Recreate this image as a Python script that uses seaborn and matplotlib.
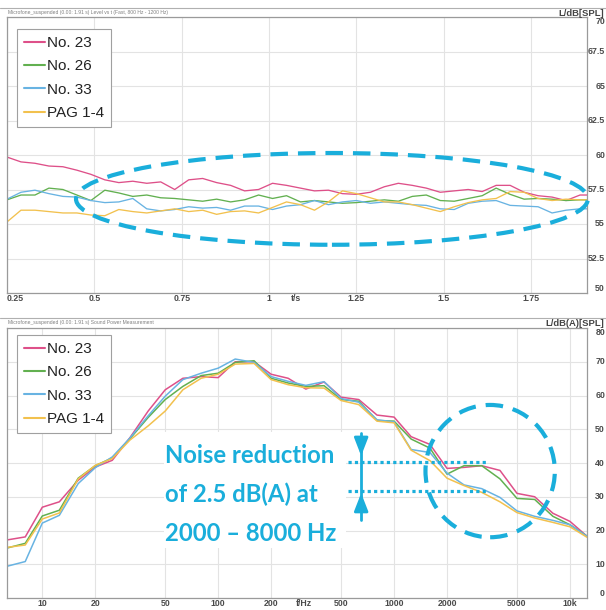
import numpy as np
import pandas as pd
import matplotlib
matplotlib.use("Agg")
import matplotlib.pyplot as plt
import matplotlib.transforms as mtransforms
from matplotlib.patches import Ellipse, Rectangle, FancyArrowPatch
from matplotlib.lines import Line2D
from matplotlib.ticker import NullLocator
import seaborn as sns

sns.set_theme(style="white")
plt.rcParams["font.family"] = ["Liberation Sans", "DejaVu Sans"]

# ---------------- data ----------------
series = ["No. 23", "No. 26", "No. 33", "PAG 1-4"]
colors = ["#DE5089", "#62B050", "#68B3E2", "#F2C14E"]

time_s = [0.25, 0.29, 0.33, 0.37, 0.41, 0.45, 0.49, 0.53, 0.57, 0.61, 0.65, 0.69,
          0.73, 0.77, 0.81, 0.85, 0.89, 0.93, 0.97, 1.01, 1.05, 1.09, 1.13, 1.17,
          1.21, 1.25, 1.29, 1.33, 1.37, 1.41, 1.45, 1.49, 1.53, 1.57, 1.61, 1.65,
          1.69, 1.73, 1.77, 1.81, 1.85, 1.89, 1.91]
level_no23 = [59.85, 59.5, 59.4, 59.2, 59.15, 58.9, 58.6, 58.2, 58.0, 58.1, 57.95, 58.05,
              57.5, 58.2, 58.3, 58.0, 57.8, 57.4, 57.5, 57.95, 57.8, 57.6, 57.4, 57.45,
              57.2, 57.15, 57.3, 57.7, 57.95, 57.8, 57.6, 57.3, 57.4, 57.5, 57.35, 57.8,
              57.8, 57.3, 57.05, 56.95, 56.7, 57.1, 57.1]
level_no26 = [56.75, 57.1, 57.1, 57.6, 57.5, 57.1, 56.7, 57.45, 57.25, 57.0, 57.1, 56.9,
              56.85, 56.75, 56.65, 56.8, 56.6, 56.75, 57.1, 56.85, 57.05, 56.6, 56.7, 56.6,
              56.5, 56.55, 56.65, 56.75, 56.65, 57.0, 57.1, 56.7, 56.65, 56.85, 57.05, 57.6,
              57.15, 56.8, 56.85, 56.8, 56.7, 56.75, 56.75]
level_no33 = [56.8, 57.3, 57.45, 57.2, 57.0, 56.95, 56.7, 56.55, 56.6, 56.85, 56.1, 55.95,
              56.05, 56.25, 56.15, 56.2, 56.0, 56.3, 56.3, 56.05, 56.3, 56.4, 56.7, 56.4,
              56.6, 56.7, 56.5, 56.6, 56.5, 56.4, 56.35, 56.1, 56.05, 56.5, 56.65, 56.7,
              56.35, 56.3, 56.25, 55.8, 56.0, 56.1, 56.1]
level_pag = [55.15, 56.0, 56.0, 55.9, 55.8, 55.8, 55.65, 55.6, 56.05, 55.9, 55.8, 55.95,
             56.1, 55.9, 56.0, 55.7, 55.9, 55.95, 55.8, 56.2, 56.6, 56.4, 56.0, 56.6,
             57.4, 57.2, 56.9, 56.6, 56.6, 56.4, 56.15, 55.9, 56.25, 56.55, 56.75, 56.85,
             57.35, 57.3, 56.85, 56.7, 56.8, 56.75, 56.75]

freq_hz = [6.3, 8, 10, 12.5, 16, 20, 25, 31.5, 40, 50, 63, 80, 100, 125, 160, 200, 250,
           315, 400, 500, 630, 800, 1000, 1250, 1600, 2000, 2500, 3150, 4000, 5000,
           6300, 8000, 10000, 12500]
power_no23 = [17.2, 18.1, 26.9, 28.5, 34.9, 38.8, 40.8, 47.5, 55.4, 61.7, 65.1, 65.6, 65.3,
              70.0, 70.0, 66.3, 65.1, 61.9, 64.0, 59.5, 58.8, 54.2, 53.6, 47.8, 45.5, 38.4,
              38.7, 39.2, 37.8, 31.0, 30.0, 25.1, 22.7, 18.3]
power_no26 = [14.8, 16.2, 24.3, 26.0, 35.5, 39.2, 41.5, 47.2, 53.5, 58.8, 62.7, 65.9, 66.6,
              69.8, 70.3, 65.1, 63.7, 62.7, 62.9, 58.8, 58.3, 52.6, 52.4, 47.1, 44.4, 36.7,
              39.2, 39.2, 35.3, 29.5, 29.2, 24.2, 21.7, 18.3]
power_no33 = [9.4, 10.8, 22.2, 24.5, 33.9, 38.6, 41.8, 47.4, 54.0, 59.8, 64.7, 66.6, 68.1,
              70.8, 69.8, 65.6, 64.2, 63.0, 64.1, 59.1, 58.0, 52.8, 52.2, 44.0, 43.1, 37.0,
              33.5, 32.4, 29.8, 25.8, 24.2, 23.0, 21.7, 18.3]
power_pag = [15.0, 15.7, 23.4, 25.2, 35.3, 39.3, 41.3, 46.8, 51.0, 55.4, 61.7, 65.1, 66.3,
             69.3, 69.5, 64.7, 63.2, 62.3, 62.2, 58.5, 57.3, 52.4, 51.9, 43.8, 40.7, 35.5,
             33.3, 31.3, 28.5, 25.3, 23.7, 22.4, 21.1, 18.0]

top_xticks = [0.25, 0.5, 0.75, 1.0, 1.25, 1.5, 1.75]
top_xticklabels = ["0.25", "0.5", "0.75", "1", "1.25", "1.5", "1.75"]
top_yticks = [70, 67.5, 65, 62.5, 60, 57.5, 55, 52.5, 50]
top_yticklabels = ["70", "67.5", "65", "62.5", "60", "57.5", "55", "52.5", "50"]
bot_xticks = [10, 20, 50, 100, 200, 500, 1000, 2000, 5000, 10000]
bot_xticklabels = ["10", "20", "50", "100", "200", "500", "1000", "2000", "5000", "10k"]
bot_yticks = [80, 70, 60, 50, 40, 30, 20, 10, 0]
bot_yticklabels = ["80", "70", "60", "50", "40", "30", "20", "10", "0"]

reduction_upper_db = 40.4
reduction_lower_db = 31.7

# ---------------- frames ----------------
df_t = pd.DataFrame({
    "t": time_s * 4,
    "L": level_no23 + level_no26 + level_no33 + level_pag,
    "series": sum([[s] * len(time_s) for s in series], []),
})
df_f = pd.DataFrame({
    "f": freq_hz * 4,
    "L": power_no23 + power_no26 + power_no33 + power_pag,
    "series": sum([[s] * len(freq_hz) for s in series], []),
})
palette = dict(zip(series, colors))

W, H = 606, 610
fig = plt.figure(figsize=(W / 100, H / 100), dpi=100)
fig.patch.set_facecolor("white")

def fx(px):
    return px / W

def fy(py):
    return 1 - py / H

AX_L, AX_R = 7, 587
T_TOP, T_BOT = 17, 293
B_TOP, B_BOT = 328, 598
ax1 = fig.add_axes([fx(AX_L), fy(T_BOT), (AX_R - AX_L) / W, (T_BOT - T_TOP) / H])
ax2 = fig.add_axes([fx(AX_L), fy(B_BOT), (AX_R - AX_L) / W, (B_BOT - B_TOP) / H])

CYAN = "#1AAEDB"
TICKC = "#4a4a4a"

for ax in (ax1, ax2):
    ax.set_facecolor("white")
    ax.set_axisbelow(True)
    ax.grid(True, color="#e3e3e3", lw=0.8)
    for sp in ax.spines.values():
        sp.set_color("#9a9a9a")
        sp.set_linewidth(0.9)
    ax.tick_params(length=0, pad=1.0, labelsize=6.3, labelcolor=TICKC)

# ---------------- top panel ----------------
sns.lineplot(data=df_t, x="t", y="L", hue="series", hue_order=series, palette=palette,
             estimator=None, sort=False, lw=0.95, ax=ax1, legend=False)
ax1.set_xlim(0.25, 1.91)
ax1.set_ylim(50, 70)
ax1.set_xticks(top_xticks)
ax1.set_xticklabels(top_xticklabels, fontweight="bold")
ax1.get_xticklabels()[0].set_ha("left")
ax1.set_yticks(top_yticks)
ax1.set_yticklabels([])
ax1.set_xlabel("")
ax1.set_ylabel("")

# ---------------- bottom panel ----------------
sns.lineplot(data=df_f, x="f", y="L", hue="series", hue_order=series, palette=palette,
             estimator=None, sort=False, lw=1.1, ax=ax2, legend=False)
ax2.set_xscale("log")
ax2.set_xlim(6.3, 12500)
ax2.set_ylim(0, 80)
ax2.set_xticks(bot_xticks)
ax2.set_xticklabels(bot_xticklabels, fontweight="bold")
ax2.xaxis.set_minor_locator(NullLocator())
ax2.set_yticks(bot_yticks)
ax2.set_yticklabels([])
ax2.set_xlabel("")
ax2.set_ylabel("")

# right-hand tick labels (right-aligned near the figure edge)
for ax, ticks, labels in ((ax1, top_yticks, top_yticklabels), (ax2, bot_yticks, bot_yticklabels)):
    tr = mtransforms.blended_transform_factory(ax.transAxes, ax.transData)
    xr = (605 - AX_L) / (AX_R - AX_L)
    for i, (v, lab) in enumerate(zip(ticks, labels)):
        va = "top" if i == 0 else ("bottom" if i == len(ticks) - 1 else "center")
        ax.text(xr, v, lab, transform=tr, ha="right", va=va, fontsize=6.3,
                fontweight="bold", color=TICKC, clip_on=False)

# axis unit labels
tr1 = mtransforms.blended_transform_factory(ax1.transData, ax1.transAxes)
ax1.text(1.077, -0.005, "t/s", transform=tr1, ha="center", va="top", fontsize=6.3,
         fontweight="bold", color=TICKC)
tr2 = mtransforms.blended_transform_factory(ax2.transData, ax2.transAxes)
ax2.text(305, -0.005, "f/Hz", transform=tr2, ha="center", va="top", fontsize=6.3,
         fontweight="bold", color=TICKC)

fig.text(fx(604), fy(13), "L/dB[SPL]", ha="right", va="center", fontsize=6.8,
         fontweight="bold", color="#444444")
fig.text(fx(604), fy(323), "L/dB(A)[SPL]", ha="right", va="center", fontsize=6.8,
         fontweight="bold", color="#444444")
fig.text(fx(8), fy(12.5), "Microfone_suspended (0.00: 1.91 s) Level vs t (Fast, 800 Hz - 1200 Hz)",
         ha="left", va="center", fontsize=3.6, color="#808080")
fig.text(fx(8), fy(322.5), "Microfone_suspended (0.00: 1.91 s) Sound Power Measurement",
         ha="left", va="center", fontsize=3.6, color="#808080")
for yy in (8, 318):
    fig.add_artist(Line2D([0, 1], [fy(yy), fy(yy)], color="#b0b0b0", lw=0.8))

# legends
handles = [Line2D([0], [0], color=c, lw=1.5) for c in colors]
for ax, anchor in ((ax1, ((17 - AX_L) / (AX_R - AX_L), 1 - (29 - T_TOP) / (T_BOT - T_TOP))),
                   (ax2, ((17 - AX_L) / (AX_R - AX_L), 1 - (335 - B_TOP) / (B_BOT - B_TOP)))):
    leg = ax.legend(handles, series, loc="upper left", bbox_to_anchor=anchor,
                    borderaxespad=0, fontsize=11, frameon=True, fancybox=False,
                    framealpha=1, edgecolor="#a0a0a0", handlelength=1.4,
                    handletextpad=0.1, labelspacing=0.62, borderpad=0.45)
    leg.get_frame().set_linewidth(0.8)
    for t in leg.get_texts():
        t.set_color("#222222")

# ---------------- annotations ----------------
ell1 = Ellipse((1.18, 56.82), width=1.465, height=6.65, fill=False, edgecolor=CYAN,
               lw=3.0, linestyle=(0, (4.2, 2.4)), clip_on=False, zorder=5)
ax1.add_patch(ell1)

ell2 = Ellipse((0.833, 0.47), width=0.223, height=0.49, transform=ax2.transAxes,
               fill=False, edgecolor=CYAN, lw=3.0, linestyle=(0, (4.2, 2.4)),
               clip_on=False, zorder=5)
ax2.add_patch(ell2)

# white panel behind the statement
ax2.add_patch(Rectangle((49, 14.8), 530 - 49, 49.2 - 14.8, facecolor="white",
                        edgecolor="none", zorder=1))

for yv in (reduction_upper_db, reduction_lower_db):
    ax2.plot([545, 3390], [yv, yv], color=CYAN, lw=2.3, linestyle=(0, (1, 1)),
             zorder=4, solid_capstyle="butt", dash_capstyle="butt")

xa = 650
ax2.plot([xa, xa], [48.95, 23.2], color=CYAN, lw=2.0, zorder=4)
for y0, y1 in ((46.0, reduction_upper_db + 0.9), (26.0, reduction_lower_db + 0.2)):
    ax2.add_patch(FancyArrowPatch((xa, y0), (xa, y1), arrowstyle="-|>,head_length=0.9,head_width=0.35",
                                  mutation_scale=12, color=CYAN, lw=2.0, zorder=4))

for yy, txt in ((463, "Noise reduction"), (502, "of 2.5 dB(A) at"), (541, "2000 \u2013 8000 Hz")):
    fig.text(fx(165), fy(yy), txt, ha="left", va="baseline", fontsize=17.2,
             fontweight="bold", color=CYAN, family=["Lato", "DejaVu Sans"])

fig.savefig("out.png", dpi=100, facecolor="white")
